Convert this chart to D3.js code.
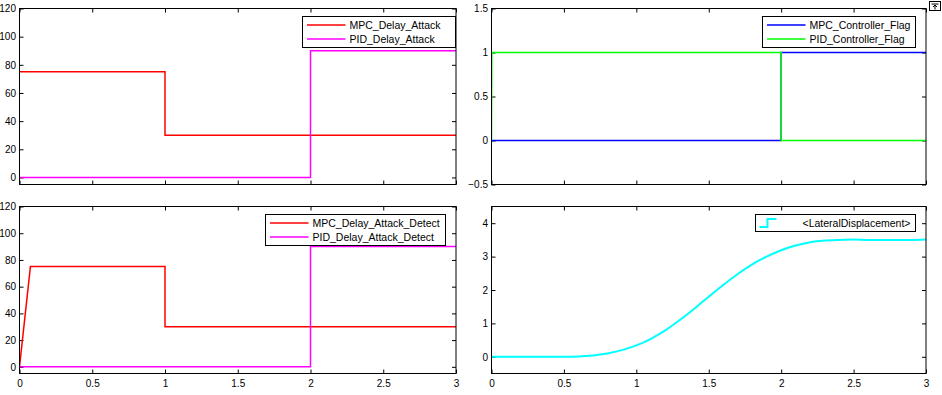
<!DOCTYPE html>
<html>
<head>
<meta charset="utf-8">
<script src="https://cdn.jsdelivr.net/npm/d3@7"></script>
<style>
  body { margin: 0; background: #fff; }
  svg { display: block; }
  text { font-family: "Liberation Sans", Arial, Helvetica, sans-serif; fill: #000; }
  .tick text { font-size: 10px; }
  .tick line { stroke: #000; }
  .domain { display: none; }
</style>
</head>
<body>
<div id="chart"></div>
<script>
// simulation log (time in s)
var mpcDelayTime = [0, 1, 1, 3];
var mpcDelayValue = [75, 75, 30, 30];
var pidDelayTime = [0, 2, 2, 3];
var pidDelayValue = [0, 0, 90, 90];

var mpcFlagTime = [0, 2, 2, 3];
var mpcFlagValue = [0, 0, 1, 1];
var pidFlagTime = [0, 0.002, 2, 2, 3];
var pidFlagValue = [0, 1, 1, 0, 0];

var mpcDetectTime = [0, 0.075, 1, 1, 3];
var mpcDetectValue = [0, 75, 75, 30, 30];
var pidDetectTime = [0, 2, 2, 3];
var pidDetectValue = [0, 0, 90, 90];

var latTime = [0, 0.1, 0.2, 0.3, 0.4, 0.5, 0.6, 0.7, 0.8, 0.9, 1.0, 1.1, 1.2, 1.3, 1.4, 1.5,
  1.6, 1.7, 1.8, 1.9, 2.0, 2.1, 2.2, 2.3, 2.4, 2.5, 2.6, 2.7, 2.8, 2.9, 3.0];
var latValue = [0, 0, 0, 0, 0, 0, 0.01, 0.04, 0.1, 0.2, 0.34, 0.54, 0.79, 1.1, 1.44, 1.8,
  2.15, 2.48, 2.77, 3.0, 3.19, 3.33, 3.43, 3.48, 3.5, 3.51, 3.5, 3.5, 3.5, 3.5, 3.51];

var xTicks = [0, 0.5, 1, 1.5, 2, 2.5, 3];
var delayTicks = [0, 20, 40, 60, 80, 100, 120];
var flagTicks = [-0.5, 0, 0.5, 1, 1.5];
var latTicks = [0, 1, 2, 3, 4];

function zip(t, v) {
  return t.map((d, i) => ({ t: d, v: v[i] }));
}

var svgWidth = 942;
var svgHeight = 395;

var svg = d3.select("#chart")
  .append("svg")
  .attr("width", svgWidth)
  .attr("height", svgHeight);

var panels = [
  {
    box: { x: 19.5, y: 8.5, w: 436.5, h: 176 },
    yDomain: [-5, 120], yTicks: delayTicks, xLabels: false,
    series: [
      { name: "MPC_Delay_Attack", color: "#ff0000", data: zip(mpcDelayTime, mpcDelayValue) },
      { name: "PID_Delay_Attack", color: "#ff00ff", data: zip(pidDelayTime, pidDelayValue) }
    ],
    legend: { x: 302.5, y: 16.5, w: 153, h: 31 }
  },
  {
    box: { x: 491.5, y: 8.5, w: 434.5, h: 176 },
    yDomain: [-0.5, 1.5], yTicks: flagTicks, xLabels: false,
    series: [
      { name: "MPC_Controller_Flag", color: "#0000ff", data: zip(mpcFlagTime, mpcFlagValue) },
      { name: "PID_Controller_Flag", color: "#00ff00", data: zip(pidFlagTime, pidFlagValue) }
    ],
    legend: { x: 762.5, y: 16.5, w: 153, h: 31 }
  },
  {
    box: { x: 19.5, y: 206.5, w: 436.5, h: 167 },
    yDomain: [-5, 120], yTicks: delayTicks, xLabels: true,
    series: [
      { name: "MPC_Delay_Attack_Detect", color: "#ff0000", data: zip(mpcDetectTime, mpcDetectValue) },
      { name: "PID_Delay_Attack_Detect", color: "#ff00ff", data: zip(pidDetectTime, pidDetectValue) }
    ],
    legend: { x: 265.5, y: 214.5, w: 180, h: 31 }
  },
  {
    box: { x: 491.5, y: 206.5, w: 434.5, h: 167 },
    yDomain: [-0.5, 4.5], yTicks: latTicks, xLabels: true,
    series: [
      { name: "<LateralDisplacement>", color: "#00ffff", data: zip(latTime, latValue), smooth: true, width: 2 }
    ],
    legend: { x: 755.5, y: 214.5, w: 160, h: 17, stairs: true }
  }
];

panels.forEach(function (p) {
  var b = p.box;
  var g = svg.append("g").attr("transform", `translate(${b.x}, ${b.y})`);

  var xScale = d3.scaleLinear().domain([0, 3]).range([0, b.w]);
  var yScale = d3.scaleLinear().domain(p.yDomain).range([b.h, 0]);

  // ticks on all four sides, pointing inward (MATLAB box style)
  g.append("g")
    .attr("transform", `translate(0, ${b.h})`)
    .call(d3.axisBottom(xScale).tickValues(xTicks).tickSize(-4).tickSizeOuter(0).tickPadding(6)
      .tickFormat(p.xLabels ? d3.format("") : () => ""));
  g.append("g")
    .call(d3.axisTop(xScale).tickValues(xTicks).tickSize(-4).tickSizeOuter(0).tickFormat(() => ""));
  g.append("g")
    .call(d3.axisLeft(yScale).tickValues(p.yTicks).tickSize(-4).tickSizeOuter(0).tickPadding(3.5)
      .tickFormat(d3.format("")));
  g.append("g")
    .attr("transform", `translate(${b.w}, 0)`)
    .call(d3.axisRight(yScale).tickValues(p.yTicks).tickSize(-4).tickSizeOuter(0).tickFormat(() => ""));

  var clip = "clip" + Math.round(b.x) + "_" + Math.round(b.y);
  g.append("clipPath").attr("id", clip)
    .append("rect").attr("width", b.w).attr("height", b.h);

  var plot = g.append("g").attr("clip-path", `url(#${clip})`);
  p.series.forEach(function (s) {
    var line = d3.line()
      .x(d => xScale(d.t))
      .y(d => yScale(d.v))
      .curve(s.smooth ? d3.curveMonotoneX : d3.curveLinear);
    plot.append("path")
      .datum(s.data)
      .attr("fill", "none")
      .attr("stroke", s.color)
      .attr("stroke-width", s.width || 1.5)
      .attr("d", line);
  });

  g.append("rect")
    .attr("width", b.w)
    .attr("height", b.h)
    .attr("fill", "none")
    .attr("stroke", "#000")
    .attr("stroke-width", 1);

  // legend
  var L = p.legend;
  var lg = svg.append("g").attr("transform", `translate(${L.x}, ${L.y})`);
  lg.append("rect")
    .attr("width", L.w).attr("height", L.h)
    .attr("fill", "#fff").attr("stroke", "#000");
  p.series.forEach(function (s, i) {
    var cy = 8.5 + i * 14;
    if (L.stairs) {
      lg.append("path")
        .attr("d", `M4,${cy + 4}H12V${cy - 4}H21`)
        .attr("fill", "none")
        .attr("stroke", s.color)
        .attr("stroke-width", 2);
      lg.append("text")
        .attr("x", L.w - 5).attr("y", cy)
        .attr("dy", "0.35em")
        .attr("text-anchor", "end")
        .style("font-size", "10.5px")
        .text(s.name);
    } else {
      lg.append("line")
        .attr("x1", 4.5).attr("x2", 43)
        .attr("y1", cy).attr("y2", cy)
        .attr("stroke", s.color)
        .attr("stroke-width", 1.5);
      lg.append("text")
        .attr("x", 47).attr("y", cy)
        .attr("dy", "0.35em")
        .style("font-size", "10.5px")
        .text(s.name);
    }
  });
});

// small restore button in the top right corner
var btn = svg.append("g").attr("transform", "translate(929.5, 1.5)");
btn.append("rect").attr("width", 11).attr("height", 9)
  .attr("fill", "#fff").attr("stroke", "#000");
btn.append("path").attr("d", "M2,2.5H9M5.5,8V3.5M3.5,5.5L5.5,3.5L7.5,5.5")
  .attr("fill", "none").attr("stroke", "#000").attr("stroke-width", 1);
</script>
</body>
</html>
